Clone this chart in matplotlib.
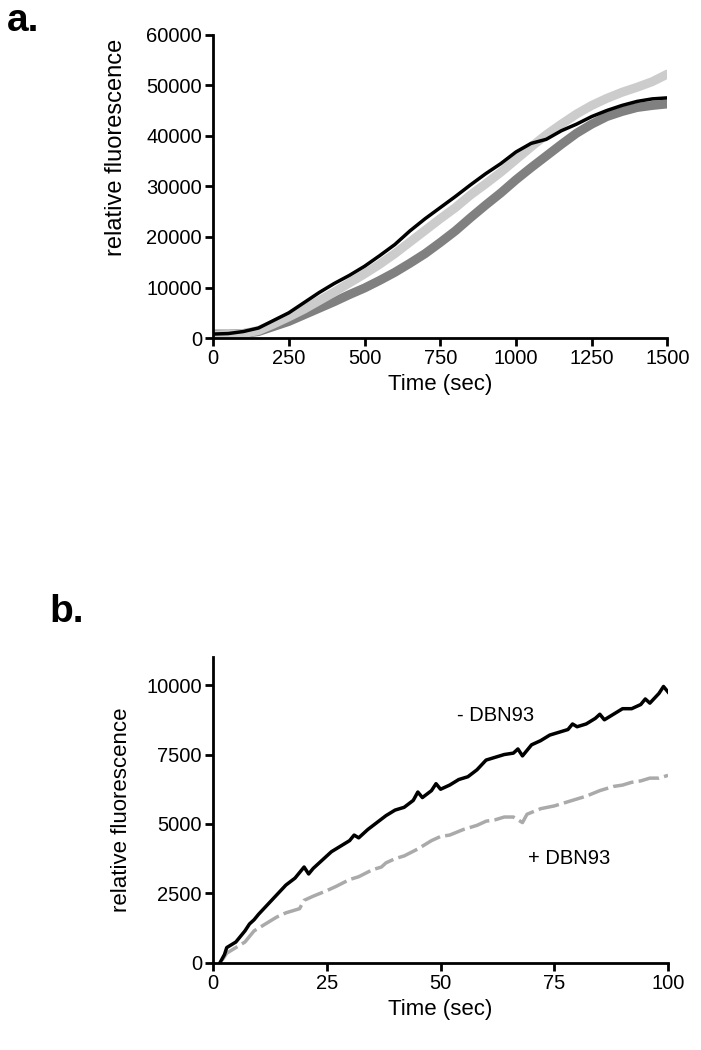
import numpy as np
import matplotlib.pyplot as plt

plt.rcParams['font.family'] = ['Liberation Sans', 'DejaVu Sans']

# --- panel a: three kinetic traces (sec, relative fluorescence) ---
t_a = [0, 50, 100, 150, 200, 250, 300, 350, 400, 450, 500, 550, 600, 650, 700,
       750, 800, 850, 900, 950, 1000, 1050, 1100, 1150, 1200, 1250, 1300, 1350,
       1400, 1450, 1500]
black_a = [800, 900, 1300, 2000, 3500, 5000, 7000, 9000, 10800, 12400, 14200,
           16300, 18500, 21200, 23600, 25800, 28000, 30300, 32500, 34500, 36800,
           38500, 39300, 41000, 42300, 43800, 45000, 46000, 46800, 47300, 47500]
light_a = [600, 700, 900, 1500, 2800, 4200, 5700, 7400, 9100, 10900, 12700,
           14600, 16700, 19000, 21300, 23600, 25800, 28300, 30500, 32800, 35300,
           37800, 40200, 42300, 44300, 46000, 47400, 48600, 49600, 50700, 52200]
dark_a = [800, 800, 900, 1300, 2300, 3300, 4600, 5900, 7200, 8600, 9900, 11400,
          13000, 14800, 16700, 18900, 21200, 23800, 26300, 28700, 31300, 33700,
          36000, 38300, 40500, 42300, 43800, 44800, 45600, 46000, 46300]

# --- panel b: -DBN93 and +DBN93 traces ---
t_minus = [1.5, 2.5, 3, 4, 5, 6, 7, 8, 9, 10, 12, 14, 16, 18, 20, 21, 22, 24,
           26, 28, 30, 31, 32, 34, 36, 38, 40, 42, 44, 45, 46, 48, 49, 50, 52,
           54, 56, 58, 60, 62, 64, 66, 67, 68, 70, 72, 74, 76, 78, 79, 80, 82,
           84, 85, 86, 88, 90, 92, 94, 95, 96, 98, 99, 100]
minus_dbn = [0, 300, 550, 650, 750, 950, 1150, 1400, 1550, 1750, 2100, 2450,
             2800, 3050, 3450, 3200, 3400, 3700, 4000, 4200, 4400, 4600, 4500,
             4800, 5050, 5300, 5500, 5600, 5850, 6150, 5950, 6200, 6450, 6250,
             6400, 6600, 6700, 6950, 7300, 7400, 7500, 7550, 7700, 7450, 7850,
             8000, 8200, 8300, 8400, 8600, 8500, 8600, 8800, 8950, 8750, 8950,
             9150, 9150, 9300, 9500, 9350, 9700, 9950, 9750]
t_plus = [2, 3, 5, 7, 9, 10, 12, 14, 16, 18, 19, 20, 22, 25, 27, 30, 32, 35,
          37, 38, 40, 42, 45, 48, 50, 52, 55, 58, 60, 62, 64, 66, 68, 69, 72,
          75, 78, 80, 82, 85, 88, 90, 92, 94, 96, 98, 100]
plus_dbn = [100, 350, 550, 750, 1150, 1250, 1450, 1650, 1800, 1900, 1950,
            2250, 2400, 2600, 2750, 3000, 3100, 3350, 3450, 3600, 3750, 3850,
            4100, 4400, 4550, 4600, 4800, 4950, 5100, 5150, 5250, 5250, 5050,
            5350, 5550, 5650, 5800, 5900, 6000, 6200, 6350, 6400, 6500, 6550,
            6650, 6650, 6750]

fig = plt.figure(figsize=(7.01, 10.5), dpi=100)


def style_axes(ax):
    for side in ['top', 'right']:
        ax.spines[side].set_visible(False)
    for side in ['left', 'bottom']:
        ax.spines[side].set_linewidth(2)
    ax.tick_params(width=2, length=6, labelsize=14.5, direction='out', pad=2)


# panel a
ax1 = fig.add_axes([0.304, 0.678, 0.648, 0.289])
ax1.plot(t_a, dark_a, color='#808080', lw=6.5, solid_capstyle='round')
ax1.plot(t_a, light_a, color='#cccccc', lw=6.5, solid_capstyle='round')
ax1.plot(t_a, black_a, color='black', lw=2.5)
ax1.set_xlim(0, 1500)
ax1.set_ylim(0, 60000)
ax1.set_xticks([0, 250, 500, 750, 1000, 1250, 1500])
ax1.set_yticks(range(0, 60001, 10000))
ax1.set_xlabel('Time (sec)', fontsize=16)
ax1.set_ylabel('relative fluorescence', fontsize=17)
ax1.yaxis.set_label_coords(-0.19, 0.63)
style_axes(ax1)

# panel b
ax2 = fig.add_axes([0.304, 0.083, 0.649, 0.291])
ax2.plot(t_plus, plus_dbn, color='#aaaaaa', lw=2.5, dashes=(6, 1.5))
ax2.plot(t_minus, minus_dbn, color='black', lw=2.5)
ax2.set_xlim(0, 100)
ax2.set_ylim(0, 11000)
ax2.set_xticks([0, 25, 50, 75, 100])
ax2.set_yticks([0, 2500, 5000, 7500, 10000])
ax2.set_xlabel('Time (sec)', fontsize=16)
ax2.set_ylabel('relative fluorescence', fontsize=16)
ax2.yaxis.set_label_coords(-0.178, 0.5)
style_axes(ax2)
ax2.text(53.6, 8890, '- DBN93', fontsize=14.5, va='center')
ax2.text(69.2, 3760, '+ DBN93', fontsize=14.5, va='center')

fig.text(0.01, 0.98, 'a.', fontsize=28, fontweight='bold', va='center')
fig.text(0.07, 0.4167, 'b.', fontsize=28, fontweight='bold', va='center')

fig.savefig('out.png', dpi=100)
